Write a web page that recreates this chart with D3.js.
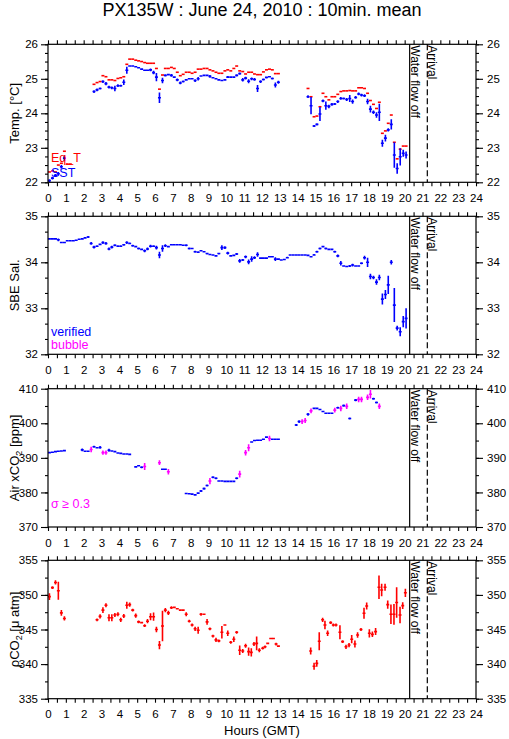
<!DOCTYPE html>
<html><head><meta charset="utf-8">
<script src="https://cdn.jsdelivr.net/npm/d3@7"></script>
<style>
body{margin:0;background:#fff}
text{font-family:"Liberation Sans",Arial,Helvetica,sans-serif}
</style>
</head><body>
<svg id="c" width="509" height="739"></svg>
<script>
// ---------------- DATA ([hour, value, sd]) ----------------
const hourTicks = [0,1,2,3,4,5,6,7,8,9,10,11,12,13,14,15,16,17,18,19,20,21,22,23,24];
const tempTicks = [22,23,24,25,26];
const salTicks = [32,33,34,35];
const airTicks = [370,380,390,400,410];
const pco2Ticks = [335,340,345,350,355];

const waterOff = 20.28;
const arrival = 21.27;

const sst = [
[0.08,22.05,.04],[0.25,22.12,.04],[0.42,22.2,.04],[0.58,22.25,.05],[0.75,22.45,.05],[0.92,22.7,.08],
[2.58,24.63,.04],[2.75,24.68,.04],[2.92,24.72,.03],[3.08,24.92,.04],[3.25,24.86,.05],[3.42,24.76,.04],[3.58,24.74,.04],[3.75,24.72,.08],[3.92,24.8,.04],[4.08,24.8,.03],[4.25,24.9,.08],[4.42,25.25,.1],[4.58,25.37,.02],[4.75,25.37,.02],[4.92,25.35,.02],[5.08,25.32,.02],[5.25,25.28,.02],[5.42,25.25,.02],[5.58,25.25,.02],[5.75,25.26,.04],[5.92,25.18,.05],[6.08,25.05,.12],[6.25,24.45,.15],[6.42,24.95,.08],[6.58,25.1,.03],[6.75,25.12,.02],[6.92,25.1,.04],[7.08,25.05,.02],[7.25,24.97,.04],[7.42,24.88,.04],[7.58,24.92,.03],[7.75,24.97,.02],[7.92,25.0,.02],[8.08,25.0,.02],[8.25,24.95,.04],[8.42,25.0,.05],[8.58,25.08,.02],[8.75,25.1,.02],[8.92,25.1,.02],[9.08,25.07,.04],[9.25,25.03,.02],[9.42,25.0,.02],[9.58,24.97,.02],[9.75,24.95,.02],[9.92,24.97,.02],[10.08,25.05,.03],[10.25,25.05,.02],[10.42,25.05,.02],[10.58,25.1,.03],[10.75,25.15,.03],[10.92,24.97,.05],[11.08,25.02,.04],[11.25,24.93,.06],[11.42,25.0,.04],[11.58,24.98,.04],[11.75,24.72,.1],[11.92,24.92,.04],[12.08,24.98,.03],[12.25,25.04,.03],[12.42,25.06,.02],[12.58,25.01,.03],[12.75,24.82,.07],[12.92,24.9,.04],
[14.58,24.48,.04],[14.75,24.22,.25],[14.92,23.63,.03],[15.08,23.68,.03],[15.25,23.98,.2],[15.42,24.36,.04],[15.58,24.22,.12],[15.75,24.2,.05],[15.92,24.26,.04],[16.08,24.27,.03],[16.25,24.34,.04],[16.42,24.43,.04],[16.58,24.43,.03],[16.75,24.4,.04],[16.92,24.43,.1],[17.08,24.34,.06],[17.25,24.46,.04],[17.42,24.56,.04],[17.58,24.53,.04],[17.75,24.51,.04],[17.92,24.34,.08],[18.08,24.12,.1],[18.25,24.03,.05],[18.42,23.95,.08],[18.58,24.03,.25],[18.75,23.13,.1],[18.92,23.28,.1],[19.08,23.52,.05],[19.25,23.68,.15],[19.42,22.79,.37],[19.58,22.4,.15],[19.75,22.74,.25],[19.92,22.84,.1],[20.08,22.79,.1]
];

const eqT = [
[0.08,22.3,0],[0.25,22.33,0],[0.42,22.3,0],[0.58,22.5,0],[0.75,22.55,0],[0.92,22.9,0],[1.08,22.53,0],[1.25,22.53,0],
[2.58,24.84,0],[2.75,24.89,0],[2.92,24.92,0],[3.08,25.09,0],[3.25,25.06,0],[3.42,24.97,0],[3.58,24.97,0],[3.75,24.95,0],[3.92,25.01,0],[4.08,25.03,0],[4.25,25.06,0],[4.42,25.42,0],[4.58,25.57,0],[4.75,25.57,0],[4.92,25.54,0],[5.08,25.52,0],[5.25,25.5,0],[5.42,25.47,0],[5.58,25.45,0],[5.75,25.45,0],[5.92,25.45,0],[6.08,25.3,0],[6.25,24.7,0],[6.42,25.11,0],[6.58,25.3,0],[6.75,25.3,0],[6.92,25.33,0],[7.08,25.3,0],[7.25,25.19,0],[7.42,25.09,0],[7.58,25.13,0],[7.75,25.19,0],[7.92,25.19,0],[8.08,25.16,0],[8.25,25.19,0],[8.42,25.28,0],[8.58,25.28,0],[8.75,25.3,0],[8.92,25.3,0],[9.08,25.26,0],[9.25,25.23,0],[9.42,25.19,0],[9.58,25.16,0],[9.75,25.16,0],[9.92,25.23,0],[10.08,25.26,0],[10.25,25.23,0],[10.42,25.3,0],[10.58,25.37,0],[10.75,25.23,0],[10.92,25.21,0],[11.08,25.14,0],[11.25,25.19,0],[11.42,25.19,0],[11.58,25.14,0],[11.75,25.12,0],[11.92,25.12,0],[12.08,25.2,0],[12.25,25.26,0],[12.42,25.28,0],[12.58,25.26,0],[12.75,25.15,0],[12.92,25.15,0],
[14.58,24.72,0],[14.75,24.48,0],[14.92,23.9,0],[15.08,23.92,0],[15.25,24.19,0],[15.42,24.58,0],[15.58,24.48,0],[15.75,24.39,0],[15.92,24.48,0],[16.08,24.48,0],[16.25,24.55,0],[16.42,24.63,0],[16.58,24.65,0],[16.75,24.65,0],[16.92,24.66,0],[17.08,24.65,0],[17.25,24.65,0],[17.42,24.74,0],[17.58,24.74,0],[17.75,24.72,0],[17.92,24.58,0],[18.08,24.37,0],[18.25,24.26,0],[18.42,24.14,0],[18.58,24.32,0],[18.75,23.42,0],[18.92,23.49,0],[19.08,23.71,0],[19.25,23.95,0],[19.42,23.16,0],[19.58,22.68,0],[19.75,22.96,0],[19.92,23.05,0],[20.08,23.05,0]
];

const sal = [
[0.08,34.51,.01],[0.25,34.51,.01],[0.42,34.51,.01],[0.58,34.49,.03],[0.75,34.43,.01],[0.92,34.43,.01],[1.08,34.47,.01],[1.25,34.47,.01],[1.42,34.47,.01],[1.58,34.48,.01],[1.75,34.5,.01],[1.92,34.51,.01],[2.08,34.53,.01],[2.25,34.55,.02],
[2.42,34.41,.03],[2.58,34.33,.03],[2.75,34.35,.02],[2.92,34.39,.02],[3.08,34.43,.03],[3.25,34.41,.03],[3.42,34.29,.03],[3.58,34.33,.03],[3.75,34.37,.02],[3.92,34.35,.02],[4.08,34.35,.02],[4.25,34.38,.02],[4.42,34.43,.03],[4.58,34.41,.02],[4.75,34.36,.02],[4.92,34.34,.02],[5.08,34.3,.02],[5.25,34.28,.02],[5.42,34.25,.03],[5.58,34.29,.03],[5.75,34.35,.03],[5.92,34.35,.02],[6.08,34.32,.04],[6.25,34.16,.07],[6.42,34.3,.07],[6.58,34.36,.03],[6.75,34.34,.02],[6.92,34.38,.01],[7.08,34.38,.01],[7.25,34.38,.01],[7.42,34.38,.01],[7.58,34.37,.01],[7.75,34.37,.02],[7.92,34.3,.02],[8.08,34.3,.01],[8.25,34.23,.02],[8.42,34.22,.02],[8.58,34.25,.01],[8.75,34.23,.01],[8.92,34.19,.02],[9.08,34.17,.01],[9.25,34.16,.01],[9.42,34.14,.01],[9.58,34.19,.02],[9.75,34.32,.05],[9.92,34.32,.03],[10.08,34.2,.03],[10.25,34.14,.01],[10.42,34.15,.01],[10.58,34.18,.02],[10.75,34.03,.04],[10.92,34.05,.02],[11.08,34.12,.03],[11.25,34.01,.05],[11.42,34.07,.06],[11.58,34.1,.03],[11.75,34.17,.05],[11.92,34.09,.01],[12.08,34.09,.01],[12.25,34.09,.01],[12.42,34.12,.01],[12.58,34.12,.01],[12.75,34.07,.04],[12.92,34.07,.02],[13.08,34.05,.01],[13.25,34.06,.01],[13.42,34.1,.02],[13.58,34.16,.01],[13.75,34.16,.01],[13.92,34.16,.01],[14.08,34.16,.01],[14.25,34.16,.01],[14.42,34.16,.01],[14.58,34.15,.01],[14.75,34.12,.01],[14.92,34.16,.02],[15.08,34.23,.02],[15.25,34.3,.02],[15.42,34.34,.02],[15.58,34.3,.02],[15.75,34.28,.01],[15.92,34.28,.01],[16.08,34.23,.02],[16.25,34.14,.03],[16.42,33.98,.05],[16.58,33.92,.01],[16.75,33.91,.01],[16.92,33.92,.02],[17.08,33.94,.03],[17.25,33.92,.01],[17.42,33.92,.01],[17.58,33.98,.02],[17.75,34.1,.04],[17.92,34.0,.1],[18.08,33.69,.06],[18.25,33.67,.04],[18.42,33.57,.06],[18.58,33.67,.06],[18.75,33.2,.12],[18.92,33.3,.1],[19.08,33.51,.2],[19.25,34.0,.05],[19.42,33.07,.37],[19.58,32.57,.05],[19.75,32.49,.1],[19.92,32.71,.12],[20.08,32.78,.22]
];

const airVerified = [
[0.08,391.5,.1],[0.25,391.6,.1],[0.42,391.8,.1],[0.58,391.9,.1],[0.75,392.0,.1],[0.92,392.1,.1],
[1.92,392.3,.4],[2.08,391.9,.1],[2.25,391.9,.1],[2.58,393.2,.3],[2.75,392.9,.2],[2.92,393.0,.4],
[3.42,392.2,.4],[3.58,392.0,.1],[3.75,391.8,.1],[3.92,391.4,.1],[4.08,391.3,.1],[4.25,391.1,.1],[4.42,391.1,.1],[4.58,391.0,.1],
[4.92,387.4,.2],[5.08,387.7,.1],[5.25,387.3,.3],[6.42,386.7,.2],[6.58,386.7,.2],
[7.75,379.7,.1],[7.92,379.6,.1],[8.08,379.5,.1],[8.25,379.3,.1],[8.42,379.8,.2],[8.58,380.4,.3],[8.75,381.1,.3],[8.92,382.0,.3],[9.25,384.4,.3],[9.42,384.1,.3],[9.58,383.3,.1],[9.75,383.3,.1],[9.92,383.2,.1],[10.08,383.2,.1],[10.25,383.2,.1],[10.42,383.2,.1],[10.58,384.1,.3],
[11.42,394.6,.2],[11.58,395.0,.1],[11.75,395.1,.1],[11.92,395.1,.1],[12.08,395.4,.2],[12.25,396.0,.2],[12.58,395.4,.1],[12.75,395.4,.1],[12.92,395.4,.1],
[13.92,399.5,.3],[14.08,400.5,.4],[14.58,402.6,.4],[14.92,404.3,.2],[15.08,404.3,.1],[15.25,404.0,.2],[15.42,403.4,.2],[15.58,402.9,.2],[15.75,402.9,.2],[15.92,402.9,.2],[16.25,404.5,.3],[16.58,405.1,.3],[16.92,401.4,.3],[17.25,406.7,.3],[18.25,407.1,.3],[18.42,406.0,.3]
];
const airSigma = [
[2.42,392.4,.8],[3.08,391.5,.6],[3.25,391.5,.6],[5.42,387.5,1.0],[6.25,388.6,.7],[6.75,386.0,.8],
[9.08,383.3,.9],[10.75,385.3,1.0],[11.08,391.5,.8],[11.25,392.9,1.0],[12.42,395.6,.8],
[14.25,400.5,.7],[14.42,400.8,.7],[14.75,403.6,.7],[16.08,403.8,.7],[16.42,404.3,.8],[16.75,404.9,.8],
[17.42,406.9,.8],[17.58,406.9,.8],[17.92,407.5,.8],[18.08,408.4,1.2],[18.58,404.9,.8]
];

const pco2 = [
[0.08,349.75,.5],[0.25,351.05,.2],[0.42,351.8,.3],[0.58,350.6,1.3],[0.75,347.4,.4],[0.92,346.6,.3],
[2.75,346.4,.2],[2.92,346.9,.3],[3.08,347.8,.4],[3.25,348.5,.3],[3.42,346.7,.5],[3.58,346.7,.5],[3.75,347.1,.3],[3.92,347.2,.3],[4.08,346.4,.3],[4.25,346.95,.3],[4.42,348.5,.5],[4.58,348.6,.3],[4.75,347.8,.2],[4.92,347.0,.3],[5.08,346.1,.2],[5.25,346.0,.1],[5.42,345.55,.2],[5.58,346.2,.3],[5.75,346.85,.5],[5.92,346.85,.6],[6.08,345.0,.4],[6.25,342.75,.6],[6.42,345.5,2.2],[6.58,347.8,.3],[6.75,347.4,.3],[6.92,348.15,.2],[7.08,348.2,.1],[7.25,348.0,.1],[7.42,347.8,.1],[7.58,347.8,.1],[7.75,347.2,.3],[7.92,346.2,.2],[8.08,345.65,.2],[8.25,345.1,.3],[8.42,344.9,.5],[8.58,347.2,.2],[8.75,347.2,.1],[8.92,346.1,.4],[9.08,345.1,.2],[9.25,344.05,.2],[9.42,343.5,.3],[9.58,343.35,.2],[9.75,344.6,.9],[9.92,345.65,.1],[10.08,344.45,.4],[10.25,343.15,.2],[10.42,343.6,.4],[10.58,344.6,.2],[10.75,342.0,.7],[10.92,341.9,.3],[11.08,342.65,.3],[11.25,341.8,.6],[11.4,341.7,.6],[11.55,342.9,.3],[11.7,343.0,1.0],[11.85,342.0,.3],[12.04,342.3,.2],[12.17,342.5,.2],[12.32,343.0,.1],[12.49,343.7,.1],[12.64,343.7,.1],[12.79,342.9,.2],[12.92,342.6,.1],
[14.73,341.9,.5],[14.92,339.7,.5],[15.07,340.1,.5],[15.21,343.3,1.3],[15.4,346.4,.3],[15.53,345.65,.6],[15.68,344.45,.4],[15.85,346.0,.2],[16.0,345.65,.2],[16.15,345.65,.2],[16.37,344.6,1.0],[16.52,343.25,.2],[16.71,342.5,.3],[16.88,342.75,.3],[17.03,343.6,.6],[17.21,342.9,.5],[17.36,344.2,.4],[17.55,345.0,.2],[17.72,347.35,.8],[17.87,348.4,.5],[18.02,344.45,.6],[18.19,344.3,.4],[18.37,344.7,.5],[18.56,351.1,1.7],[18.71,350.7,.9],[18.9,351.1,.5],[19.05,348.6,.6],[19.23,347.2,1.4],[19.4,347.2,1.5],[19.55,348.9,2.2],[19.74,347.1,1.2],[19.89,348.45,.5],[20.04,350.3,.6]
];

// ---------------- DRAWING ----------------
const RED = "#ff0000", BLUE = "#0000ff", MAG = "#ff00ff";
const svg = d3.select("#c");
const x = d3.scaleLinear().domain([0, 24]).range([48, 476]);
const halfBin = 1/12; // 10-minute mean -> +-5 minutes

svg.append("text").attr("x", 262).attr("y", 16).attr("text-anchor", "middle")
  .attr("font-size", 18).text("PX135W : June 24, 2010 : 10min. mean");

const panels = [
  {top: 44.3, bottom: 182.3, domain: [22, 26], ticks: tempTicks, minor: 0.25,
   label: [{t: "Temp. [°C]"}],
   series: [{d: eqT, c: RED}, {d: sst, c: BLUE}],
   legend: [{t: "Eq_T", c: RED, y: 162}, {t: "SST", c: BLUE, y: 177}]},
  {top: 216.3, bottom: 354.3, domain: [32, 35], ticks: salTicks, minor: 1/3,
   label: [{t: "SBE Sal."}],
   series: [{d: sal, c: BLUE}],
   legend: [{t: "verified", c: BLUE, y: 336}, {t: "bubble", c: MAG, y: 349}]},
  {top: 388.7, bottom: 527, domain: [370, 410], ticks: airTicks, minor: 5,
   label: [{t: "Air xCO"}, {t: "2", sub: true}, {t: " [ppm]"}],
   series: [{d: airVerified, c: BLUE}, {d: airSigma, c: MAG}],
   legend: [{t: "σ ≥ 0.3", c: MAG, y: 508}]},
  {top: 560.3, bottom: 698.7, domain: [335, 355], ticks: pco2Ticks, minor: 2.5,
   label: [{t: "ρCO"}, {t: "2", sub: true}, {t: " [μ atm]"}],
   series: [{d: pco2, c: RED}],
   legend: []}
];

const halfHours = d3.range(0, 24.001, 0.5);

panels.forEach(p => {
  const y = d3.scaleLinear().domain(p.domain).range([p.bottom, p.top]);
  const g = svg.append("g");
  const minorVals = d3.range(p.domain[0], p.domain[1] + 1e-6, p.minor);

  // data marks
  p.series.forEach(s => {
    g.append("g").selectAll("path").data(s.d).join("path")
      .attr("fill", "none").attr("stroke", s.c).attr("stroke-width", 1.6)
      .attr("d", d => `M${x(d[0] - halfBin)},${y(d[1])}H${x(d[0] + halfBin)}` +
        (d[2] > 0 ? `M${x(d[0])},${y(d[1] - d[2])}V${y(d[1] + d[2])}` : ""));
  });

  // axes
  const styleAxis = (sel) => {
    sel.select(".domain").remove();
    sel.selectAll("line").attr("stroke", "#000").attr("stroke-width", 1.1);
    sel.selectAll("text").attr("font-size", 11.5).attr("fill", "#000")
      .style("font-family", '"Liberation Sans",Arial,sans-serif');
  };
  g.append("g").attr("transform", `translate(0,${p.top})`)
    .call(d3.axisTop(x).tickValues(halfHours).tickSize(4).tickFormat("")).call(styleAxis);
  g.append("g").attr("transform", `translate(0,${p.bottom})`)
    .call(d3.axisBottom(x).tickValues(halfHours).tickSize(4).tickPadding(7.5)
      .tickFormat(d => Number.isInteger(d) && hourTicks.includes(d) ? d : "")).call(styleAxis);

  g.append("g").attr("transform", `translate(48,0)`)
    .call(d3.axisLeft(y).tickValues(minorVals).tickSize(3).tickFormat("")).call(styleAxis);
  g.append("g").attr("transform", `translate(48,0)`)
    .call(d3.axisLeft(y).tickValues(p.ticks).tickSize(7).tickPadding(3).tickFormat(d3.format("d"))).call(styleAxis);
  g.append("g").attr("transform", `translate(476,0)`)
    .call(d3.axisRight(y).tickValues(minorVals).tickSize(3).tickFormat("")).call(styleAxis);
  g.append("g").attr("transform", `translate(476,0)`)
    .call(d3.axisRight(y).tickValues(p.ticks).tickSize(7).tickPadding(4).tickFormat(d3.format("d"))).call(styleAxis);

  // frame
  g.append("rect").attr("x", 48).attr("y", p.top).attr("width", 428).attr("height", p.bottom - p.top)
    .attr("fill", "none").attr("stroke", "#000").attr("stroke-width", 1.2);

  // event lines
  g.append("line").attr("x1", x(waterOff)).attr("x2", x(waterOff)).attr("y1", p.top).attr("y2", p.bottom)
    .attr("stroke", "#000").attr("stroke-width", 1.2);
  g.append("line").attr("x1", x(arrival)).attr("x2", x(arrival)).attr("y1", p.top).attr("y2", p.bottom)
    .attr("stroke", "#000").attr("stroke-width", 1.2).attr("stroke-dasharray", "6,3");
  g.append("text").attr("transform", `translate(${x(waterOff) + 1},${p.top + 1}) rotate(90)`)
    .attr("font-size", 12).text("Water flow off");
  g.append("text").attr("transform", `translate(${x(arrival) + 1},${p.top + 1}) rotate(90)`)
    .attr("font-size", 12).text("Arrival");

  // y label
  const yl = g.append("text").attr("transform", `translate(19,${(p.top + p.bottom) / 2}) rotate(-90)`)
    .attr("text-anchor", "middle").attr("font-size", 13);
  p.label.forEach(l => {
    const ts = yl.append("tspan").text(l.t);
    if (l.sub) { ts.attr("font-size", 9).attr("dy", 3); }
    else if (yl.selectAll("tspan").size() > 1) { ts.attr("dy", -3); }
  });

  // legend
  p.legend.forEach(l => {
    g.append("text").attr("x", 51).attr("y", l.y).attr("fill", l.c).attr("font-size", 12.5).text(l.t);
  });
});

svg.append("text").attr("x", 262).attr("y", 735).attr("text-anchor", "middle")
  .attr("font-size", 13).text("Hours (GMT)");
</script>
</body></html>
